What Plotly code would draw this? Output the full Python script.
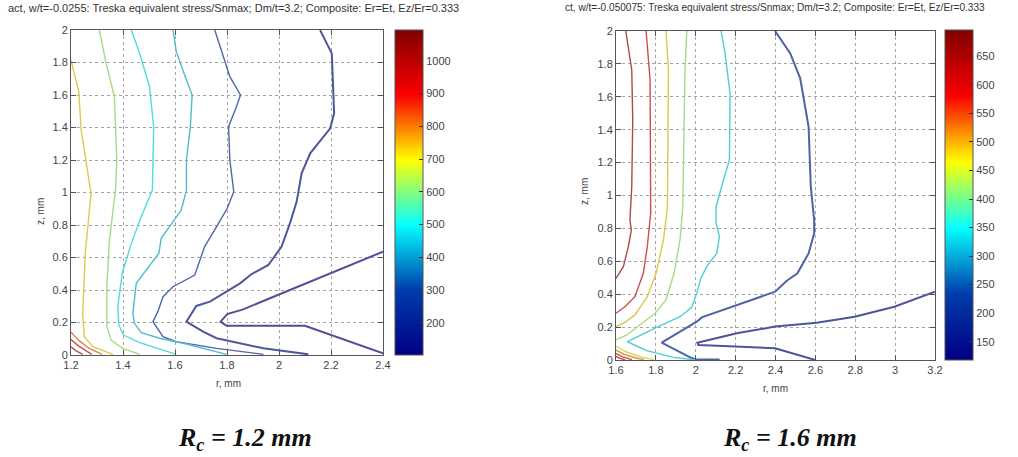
import plotly.graph_objects as go
from plotly.colors import sample_colorscale, unlabel_rgb

W, H = 1018, 457

# ---------------- Left panel (Rc = 1.2 mm) contour lines ----------------
left_levels = [120, 150, 250, 440, 500, 620, 720, 820, 920, 1020]

left_l7_r = [2.4, 2.100, 1.798, 1.775, 1.801, 1.862, 1.965, 2.4]
left_l7_z = [0.01, 0.18, 0.18, 0.205, 0.252, 0.281, 0.349, 0.636]

left_l6_r = [2.158, 2.203, 2.212, 2.197, 2.12, 2.087, 2.068, 2.042, 2.01, 1.959, 1.895, 1.85, 1.798,
             1.734, 1.682, 1.644, 1.708, 1.76, 1.94, 2.113]
left_l6_z = [2.0, 1.856, 1.487, 1.395, 1.241, 1.118, 0.944, 0.81, 0.667, 0.554, 0.498, 0.441, 0.39,
             0.328, 0.302, 0.205, 0.144, 0.103, 0.041, 0.004]

left_l5_r = [1.753, 1.779, 1.811, 1.852, 1.834, 1.806, 1.811, 1.826, 1.801, 1.76, 1.714, 1.676, 1.592,
             1.554, 1.534, 1.515, 1.554, 1.605, 1.76, 1.94]
left_l5_z = [2.0, 1.867, 1.713, 1.6, 1.518, 1.405, 1.2, 1.005, 0.903, 0.79, 0.667, 0.492, 0.42,
             0.359, 0.267, 0.205, 0.113, 0.082, 0.041, 0.004]

left_l4_r = [1.592, 1.605, 1.637, 1.666, 1.659, 1.644, 1.644, 1.624, 1.579, 1.547, 1.538, 1.489, 1.451,
             1.438, 1.444, 1.47, 1.541, 1.644, 1.798]
left_l4_z = [2.0, 1.867, 1.723, 1.6, 1.405, 1.2, 1.015, 0.892, 0.79, 0.718, 0.626, 0.523, 0.441,
             0.256, 0.195, 0.137, 0.103, 0.068, 0.004]

left_l3_r = [1.432, 1.464, 1.502, 1.518, 1.513, 1.47, 1.432, 1.397, 1.38, 1.384, 1.402, 1.464, 1.605]
left_l3_z = [2.0, 1.856, 1.651, 1.405, 1.015, 0.851, 0.687, 0.503, 0.297, 0.185, 0.123, 0.076, 0.004]

left_l2_r = [1.309, 1.335, 1.367, 1.376, 1.371, 1.348, 1.338, 1.338, 1.354, 1.399, 1.464]
left_l2_z = [2.0, 1.795, 1.59, 1.2, 1.015, 0.708, 0.42, 0.174, 0.092, 0.041, 0.004]

left_l1_r = [1.2, 1.23, 1.239, 1.277, 1.255, 1.245, 1.251, 1.284, 1.361]
left_l1_z = [1.815, 1.621, 1.385, 0.995, 0.626, 0.256, 0.113, 0.051, 0.004]

left_c1_r = [1.2, 1.23, 1.27, 1.32]
left_c1_z = [0.14, 0.09, 0.04, 0.004]
left_c2_r = [1.2, 1.23, 1.28]
left_c2_z = [0.095, 0.055, 0.004]
left_c3_r = [1.2, 1.22, 1.245]
left_c3_z = [0.05, 0.025, 0.004]

left_lines_r = [left_l7_r, left_l6_r, left_l5_r, left_l4_r, left_l3_r, left_l2_r, left_l1_r,
                left_c1_r, left_c2_r, left_c3_r]
left_lines_z = [left_l7_z, left_l6_z, left_l5_z, left_l4_z, left_l3_z, left_l2_z, left_l1_z,
                left_c1_z, left_c2_z, left_c3_z]

# ---------------- Right panel (Rc = 1.6 mm) contour lines ----------------
right_levels = [140, 190, 335, 420, 480, 600, 670, 460, 520, 580, 640]

right_r7_r = [3.2, 2.996, 2.797, 2.607, 2.398, 2.206, 2.008, 2.013, 2.139, 2.398, 2.599]
right_r7_z = [0.415, 0.324, 0.263, 0.227, 0.203, 0.162, 0.105, 0.091, 0.085, 0.071, 0.0]

right_r6_r = [2.398, 2.474, 2.524, 2.566, 2.577, 2.594, 2.594, 2.566, 2.51, 2.457, 2.398, 2.256, 2.139,
              2.03, 2.005, 1.829, 1.972, 2.0, 2.12]
right_r6_z = [2.0, 1.864, 1.712, 1.418, 1.054, 0.851, 0.77, 0.648, 0.527, 0.482, 0.415, 0.355, 0.304,
              0.259, 0.233, 0.105, 0.016, 0.003, 0.003]

right_r5_r = [2.127, 2.147, 2.172, 2.169, 2.139, 2.102, 2.102, 2.119, 2.105, 2.059, 2.025, 2.005, 1.98,
              1.921, 1.804, 1.657, 1.754, 1.888, 2.002]
right_r5_z = [2.0, 1.864, 1.621, 1.216, 1.094, 0.932, 0.831, 0.75, 0.648, 0.577, 0.496, 0.405, 0.32,
              0.263, 0.199, 0.111, 0.057, 0.016, 0.0]

right_r4_r = [1.955, 1.946, 1.935, 1.921, 1.891, 1.851, 1.796, 1.72, 1.654, 1.6]
right_r4_z = [2.0, 1.763, 0.932, 0.729, 0.527, 0.365, 0.284, 0.213, 0.152, 0.122]

right_r3_r = [1.851, 1.863, 1.858, 1.838, 1.801, 1.757, 1.695, 1.637, 1.6]
right_r3_z = [2.0, 1.763, 0.932, 0.729, 0.527, 0.385, 0.274, 0.223, 0.203]

right_r2_r = [1.751, 1.771, 1.774, 1.757, 1.737, 1.695, 1.645, 1.6]
right_r2_z = [2.0, 1.702, 0.892, 0.689, 0.527, 0.385, 0.324, 0.284]

right_r1_r = [1.649, 1.679, 1.684, 1.679, 1.67, 1.677, 1.662, 1.637, 1.6]
right_r1_z = [2.0, 1.763, 1.459, 1.054, 0.851, 0.79, 0.689, 0.567, 0.496]

right_a1_r = [1.6, 1.65, 1.72, 1.79]
right_a1_z = [0.085, 0.05, 0.02, 0.002]
right_a2_r = [1.6, 1.64, 1.70, 1.74]
right_a2_z = [0.06, 0.035, 0.012, 0.002]
right_a3_r = [1.6, 1.63, 1.68]
right_a3_z = [0.04, 0.02, 0.002]
right_a4_r = [1.6, 1.62, 1.645]
right_a4_z = [0.022, 0.01, 0.002]

right_lines_r = [right_r7_r, right_r6_r, right_r5_r, right_r4_r, right_r3_r, right_r2_r, right_r1_r,
                 right_a1_r, right_a2_r, right_a3_r, right_a4_r]
right_lines_z = [right_r7_z, right_r6_z, right_r5_z, right_r4_z, right_r3_z, right_r2_z, right_r1_z,
                 right_a1_z, right_a2_z, right_a3_z, right_a4_z]

# colour bar ranges and ticks
left_cmin, left_cmax = 102, 1094
left_cticks = [200, 300, 400, 500, 600, 700, 800, 900, 1000]
right_cmin, right_cmax = 118, 696
right_cticks = [150, 200, 250, 300, 350, 400, 450, 500, 550, 600, 650]

left_xticks = [1.2, 1.4, 1.6, 1.8, 2.0, 2.2, 2.4]
left_xtext = ["1.2", "1.4", "1.6", "1.8", "2", "2.2", "2.4"]
right_xticks = [1.6, 1.8, 2.0, 2.2, 2.4, 2.6, 2.8, 3.0, 3.2]
right_xtext = ["1.6", "1.8", "2", "2.2", "2.4", "2.6", "2.8", "3", "3.2"]
zticks = [0, 0.2, 0.4, 0.6, 0.8, 1.0, 1.2, 1.4, 1.6, 1.8, 2.0]
ztext = ["0", "0.2", "0.4", "0.6", "0.8", "1", "1.2", "1.4", "1.6", "1.8", "2"]

left_title = "act, w/t=-0.0255: Treska equivalent stress/Snmax; Dm/t=3.2; Composite: Er=Et, Ez/Er=0.333"
right_title = "ct, w/t=-0.050075: Treska equivalent stress/Snmax; Dm/t=3.2; Composite: Er=Et, Ez/Er=0.333"
left_caption = "<b><i>R<sub>c</sub> = 1.2 mm</i></b>"
right_caption = "<b><i>R<sub>c</sub> = 1.6 mm</i></b>"

JET = "Jet"


def line_color(level, cmin, cmax):
    t = (level - cmin) / (cmax - cmin)
    c = sample_colorscale(JET, [min(max(t, 0), 1)])[0]
    r, g, b = unlabel_rgb(c)
    k = 0.45
    gray = 175
    return "rgb(%d,%d,%d)" % (r * (1 - k) + gray * k, g * (1 - k) + gray * k, b * (1 - k) + gray * k)


fig = go.Figure()

for rs, zs, lv in zip(left_lines_r, left_lines_z, left_levels):
    fig.add_trace(go.Scatter(x=rs, y=zs, mode="lines", xaxis="x", yaxis="y",
                             line=dict(color=line_color(lv, left_cmin, left_cmax),
                                       width=2 if lv < 200 else 1.4),
                             showlegend=False, hoverinfo="skip"))

for rs, zs, lv in zip(right_lines_r, right_lines_z, right_levels):
    fig.add_trace(go.Scatter(x=rs, y=zs, mode="lines", xaxis="x2", yaxis="y2",
                             line=dict(color=line_color(lv, right_cmin, right_cmax),
                                       width=2 if lv < 200 else 1.4),
                             showlegend=False, hoverinfo="skip"))

font_tick = dict(family="Liberation Sans, Arial, sans-serif", size=11, color="#444")


def cbar(x_px, y_top_px, y_bot_px, ticks):
    return dict(x=x_px / W, xanchor="left", xpad=0, thickness=28, thicknessmode="pixels",
                y=1 - y_top_px / H, yanchor="top", ypad=0, len=(y_bot_px - y_top_px) / H,
                lenmode="fraction", outlinewidth=1, outlinecolor="#555",
                tickvals=ticks, ticks="inside", ticklen=4, tickcolor="#333",
                tickfont=font_tick)


# invisible traces carrying the colour bars
fig.add_trace(go.Scatter(x=[left_xticks[0], left_xticks[0]], y=[zticks[0], zticks[0]], mode="markers",
                         xaxis="x", yaxis="y", showlegend=False, hoverinfo="skip",
                         marker=dict(size=0.1, opacity=0, color=[left_cmin, left_cmax], colorscale=JET,
                                     cmin=left_cmin, cmax=left_cmax, showscale=True,
                                     colorbar=cbar(395, 30, 355, left_cticks))))
fig.add_trace(go.Scatter(x=[right_xticks[0], right_xticks[0]], y=[zticks[0], zticks[0]], mode="markers",
                         xaxis="x2", yaxis="y2", showlegend=False, hoverinfo="skip",
                         marker=dict(size=0.1, opacity=0, color=[right_cmin, right_cmax], colorscale=JET,
                                     cmin=right_cmin, cmax=right_cmax, showscale=True,
                                     colorbar=cbar(945, 30, 360, right_cticks))))

axis_common = dict(showline=True, mirror="ticks", linecolor="#555", linewidth=1,
                   ticks="inside", ticklen=5, tickcolor="#555", showgrid=True,
                   gridcolor="#a5a5a5", griddash="dot", gridwidth=1, zeroline=False,
                   tickfont=font_tick, fixedrange=True, automargin=False)

fig.update_layout(
    width=W, height=H, margin=dict(l=0, r=0, t=0, b=0, autoexpand=False),
    paper_bgcolor="white", plot_bgcolor="white",
    xaxis=dict(domain=[71 / W, 383 / W], range=[1.2, 2.4], tickvals=left_xticks, ticktext=left_xtext,
               anchor="y", **axis_common),
    yaxis=dict(domain=[1 - 355 / H, 1 - 30 / H], range=[0, 2], tickvals=zticks, ticktext=ztext,
               anchor="x", **axis_common),
    xaxis2=dict(domain=[616 / W, 935 / W], range=[1.6, 3.2], tickvals=right_xticks, ticktext=right_xtext,
                anchor="y2", **axis_common),
    yaxis2=dict(domain=[1 - 360 / H, 1 - 31 / H], range=[0, 2], tickvals=zticks, ticktext=ztext,
                anchor="x2", **axis_common),
)

small_l = dict(family="Liberation Sans, Arial, sans-serif", size=11, color="#333")
small_r = dict(family="Liberation Sans, Arial, sans-serif", size=10.1, color="#333")
label = dict(family="Liberation Sans, Arial, sans-serif", size=10, color="#444")
cap = dict(family="Liberation Serif, Times New Roman, serif", size=26, color="#111")


def ann(text, x_px, y_px, font, xanchor="center", angle=0):
    return dict(text=text, x=x_px / W, y=1 - y_px / H, xref="paper", yref="paper",
                xanchor=xanchor, yanchor="middle", showarrow=False, font=font, textangle=angle)


fig.update_layout(annotations=[
    ann(left_title, 233, 8, small_l),
    ann(right_title, 775, 8, small_r),
    ann("z, mm", 40, 212, label, angle=-90),
    ann("z, mm", 584, 192, label, angle=-90),
    ann("r, mm", 228, 383, label),
    ann("r, mm", 775, 388, label),
    ann(left_caption, 245, 439, cap),
    ann(right_caption, 790, 439, cap),
])

fig.write_html("out.html", config={"displayModeBar": False, "staticPlot": True},
               post_script="document.body.style.margin='0';document.body.style.overflow='hidden';")
